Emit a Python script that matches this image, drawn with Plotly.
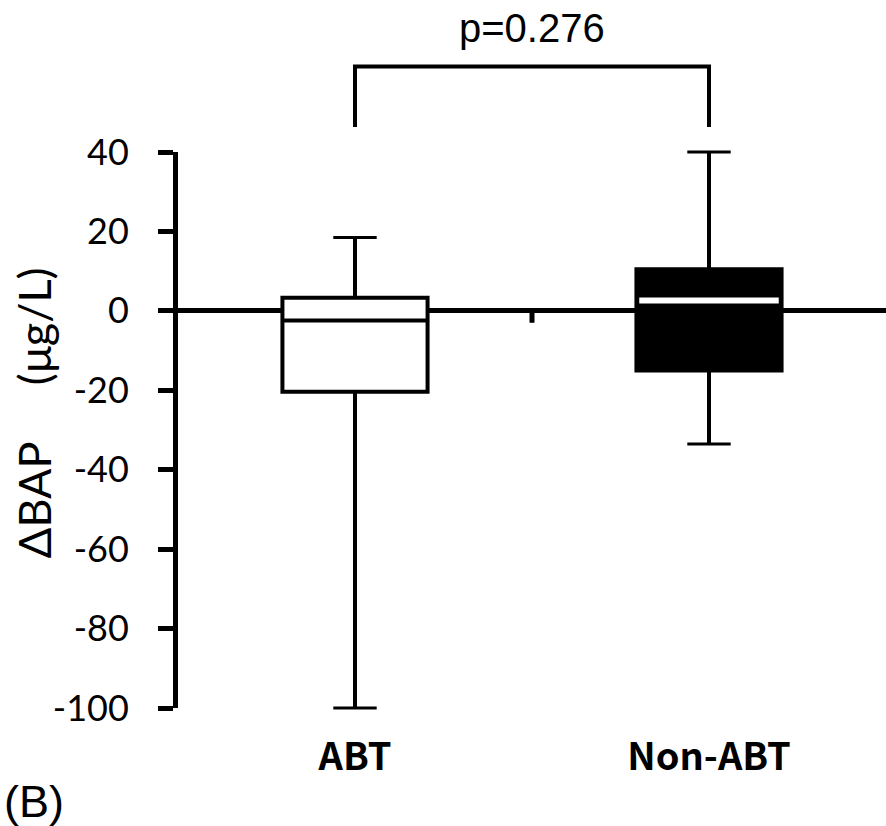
import plotly.graph_objects as go

# ---- data ----
categories = ["ABT", "Non-ABT"]
x_pos = [0, 1]
q1 = [-20.4, -15.0]
median = [-2.4, 2.6]
q3 = [3.3, 10.5]
lower_whisker = [-100.0, -33.5]
upper_whisker = [18.5, 40.0]
fill_colors = ["white", "black"]
p_text = "p=0.276"
y_ticks = [40, 20, 0, -20, -40, -60, -80, -100]
y_tick_labels = ["40", "20", "0", "-20", "-40", "-60", "-80", "-100"]
y_range = [-100, 40]
box_width = 0.41

fig = go.Figure()

for i, cat in enumerate(categories):
    fig.add_trace(go.Box(
        x=[x_pos[i]],
        q1=[q1[i]], median=[median[i]], q3=[q3[i]],
        lowerfence=[lower_whisker[i]], upperfence=[upper_whisker[i]],
        width=box_width,
        fillcolor=fill_colors[i],
        line=dict(color="black", width=4),
        whiskerwidth=0,
        boxpoints=False,
        name=cat,
        showlegend=False,
        hoverinfo="skip",
    ))

# whisker caps
fig.add_trace(go.Scatter(
    x=x_pos + x_pos,
    y=lower_whisker + upper_whisker,
    mode="markers",
    marker=dict(symbol="line-ew", size=31, line=dict(color="black", width=3)),
    cliponaxis=False,
    showlegend=False,
    hoverinfo="skip",
))

# white median line on the filled (black) box
for i in range(len(categories)):
    if fill_colors[i] == "black":
        fig.add_trace(go.Scatter(
            x=[x_pos[i] - box_width / 2 + 0.008, x_pos[i] + box_width / 2 - 0.008],
            y=[median[i], median[i]],
            mode="lines",
            line=dict(color="white", width=6),
            showlegend=False,
            hoverinfo="skip",
        ))

# category-boundary tick on the zero line
mid = (x_pos[0] + x_pos[1]) / 2
fig.add_shape(type="line", xref="x", yref="y", x0=mid, x1=mid, y0=0, y1=-3,
              line=dict(color="black", width=5))

# significance bracket (y in paper coords above the plot)
span = y_range[1] - y_range[0]
def to_paper(v):
    return (v - y_range[0]) / span

br_top = to_paper(61.5)
br_leg = to_paper(46.3)
fig.add_shape(type="path", xref="x", yref="paper",
              path=f"M {x_pos[0]} {br_leg} L {x_pos[0]} {br_top} L {x_pos[1]} {br_top} L {x_pos[1]} {br_leg}",
              line=dict(color="black", width=4))
fig.add_annotation(x=mid, xref="x", y=to_paper(71.3), yref="paper",
                   text=p_text, showarrow=False, xanchor="center", yanchor="middle",
                   font=dict(family="Liberation Sans, Arial", size=40, color="black"))

# y-axis title
fig.add_annotation(x=-0.2035, xref="paper", y=0.532, yref="paper",
                   text="ΔBAP\u00a0\u00a0\u00a0\u00a0\u00a0(μg/L)", textangle=-90,
                   showarrow=False, xanchor="center", yanchor="middle",
                   font=dict(family="Lato, Noto Sans, sans-serif", size=45, color="black"))

# panel label
fig.add_annotation(x=-0.2486, xref="paper", y=-0.169, yref="paper",
                   text="(B)", showarrow=False, xanchor="left", yanchor="middle",
                   font=dict(family="Liberation Sans, Arial", size=45, color="black"))

fig.update_layout(
    width=886, height=826,
    margin=dict(l=178, r=0, t=152, b=118, autoexpand=False),
    paper_bgcolor="white", plot_bgcolor="white",
    boxmode="overlay",
    showlegend=False,
    xaxis=dict(
        range=[-0.5, 1.5],
        tickvals=x_pos, ticktext=categories,
        showline=False, showgrid=False, zeroline=False, ticks="",
        tickfont=dict(family="Noto Sans CJK JP", size=38, color="black", weight="bold"),
        ticklabelstandoff=23,
    ),
    yaxis=dict(
        range=y_range,
        tickvals=y_ticks, ticktext=y_tick_labels,
        showline=True, linecolor="black", linewidth=5,
        ticks="outside", ticklen=15, tickwidth=5, tickcolor="black",
        showgrid=False,
        zeroline=True, zerolinecolor="black", zerolinewidth=5,
        tickfont=dict(family="Lato, sans-serif", size=36, color="black"),
        ticklabelstandoff=22,
    ),
)

fig.write_html("out.html", config={"displayModeBar": False},
               post_script="document.body.style.margin='0';document.body.style.overflow='hidden';")
